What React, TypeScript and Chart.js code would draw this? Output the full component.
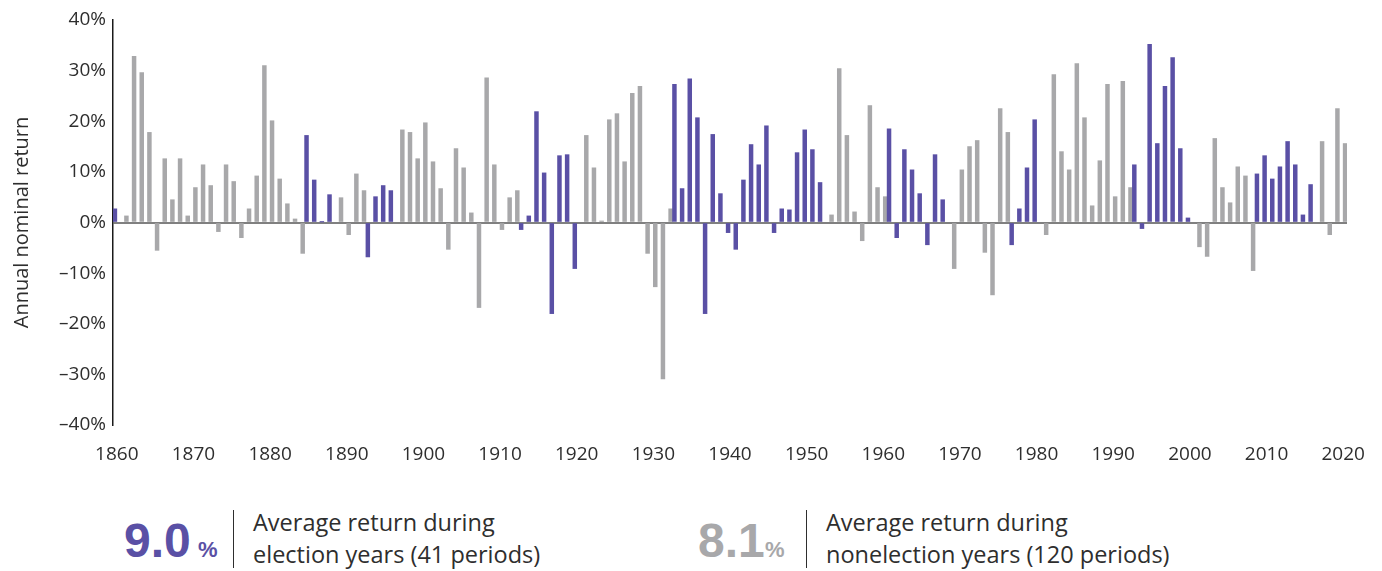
import React, { useEffect, useRef } from "react";
import { Chart, registerables } from "chart.js";

Chart.register(...registerables);

// ---------- data ----------
const startYear = 1860;

// Annual nominal return (%) for each year 1860..2020
const returns: number[] = [
  // 1860-1869
  2.7, 1.3, 32.8, 29.6, 17.8, -5.5, 12.6, 4.5, 12.6, 1.3,
  // 1870-1879
  6.9, 11.4, 7.3, -1.8, 11.4, 8.1, -3.0, 2.7, 9.2, 31.0,
  // 1880-1889
  20.1, 8.6, 3.7, 0.7, -6.1, 17.2, 8.4, 0.1, 5.5, 4.9,
  // 1890-1899
  -2.4, 9.6, 6.3, -6.8, 5.1, 7.3, 6.3, 18.3, 17.8, 12.6,
  // 1900-1909
  19.7, 12.0, 6.7, -5.3, 14.6, 10.8, 1.9, -16.8, 28.6, 11.4,
  // 1910-1919
  -1.4, 4.9, 6.3, -1.4, 1.3, 21.9, 9.8, -18.0, 13.2, 13.4,
  // 1920-1929
  -9.1, 17.2, 10.8, 0.3, 20.3, 21.5, 12.0, 25.5, 26.9, -6.1,
  // 1930-1939
  -12.7, -30.9, 2.7, 27.3, 6.7, 28.4, 20.7, -18.0, 17.4, 5.7,
  // 1940-1949
  -2.0, -5.3, 8.4, 15.4, 11.4, 19.1, -2.0, 2.7, 2.5, 13.8,
  // 1950-1959
  18.3, 14.4, 7.9, 1.5, 30.4, 17.2, 2.1, -3.6, 23.1, 6.9,
  // 1960-1969
  5.1, 18.5, -3.0, 14.4, 10.4, 5.7, -4.4, 13.4, 4.5, -9.1,
  // 1970-1979
  10.4, 15.0, 16.2, -5.9, -14.3, 22.5, 17.8, -4.4, 2.7, 10.8,
  // 1980-1989
  20.3, -2.4, 29.2, 14.0, 10.4, 31.4, 20.7, 3.3, 12.2, 27.3,
  // 1990-1999
  5.1, 27.9, 6.9, 11.4, -1.2, 35.2, 15.6, 26.9, 32.6, 14.6,
  // 2000-2009
  0.9, -4.8, -6.7, 16.6, 6.9, 3.9, 11.0, 9.2, -9.5, 9.6,
  // 2010-2019
  13.2, 8.6, 11.0, 16.0, 11.4, 1.5, 7.5, 16.0, -2.4, 22.5,
  // 2020
  15.6,
];

// Years drawn in purple
const electionYears: number[] = [
  1860,
  1885, 1886, 1887, 1888,
  1893, 1894, 1895, 1896,
  1913, 1914, 1915, 1916, 1917, 1918, 1919, 1920,
  1933, 1934, 1935, 1936, 1937, 1938, 1939, 1940, 1941, 1942,
  1943, 1944, 1945, 1946, 1947, 1948, 1949, 1950, 1951, 1952,
  1961, 1962, 1963, 1964, 1965, 1966, 1967, 1968,
  1977, 1978, 1979, 1980,
  1993, 1994, 1995, 1996, 1997, 1998, 1999, 2000,
  2009, 2010, 2011, 2012, 2013, 2014, 2015, 2016,
];

const yTicks: number[] = [-40, -30, -20, -10, 0, 10, 20, 30, 40];
const xLabelEvery = 10;

const electionAvg = "9.0";
const nonElectionAvg = "8.1";
const electionText = ["Average return during", "election years (41 periods)"];
const nonElectionText = ["Average return during", "nonelection years (120 periods)"];

// ---------- styles ----------
const PURPLE = "#5A50A5";
const GREY = "#A8A8AA";
const TEXT = "#2e2e2e";
const FONT = "'Open Sans', 'Liberation Sans', sans-serif";

function ChartCanvas() {
  const ref = useRef<HTMLCanvasElement | null>(null);

  useEffect(() => {
    if (!ref.current) return;
    const years = returns.map((_, i) => String(startYear + i));
    const purpleData = returns.map((v, i) =>
      electionYears.includes(startYear + i) ? v : null
    );
    const greyData = returns.map((v, i) =>
      electionYears.includes(startYear + i) ? null : v
    );

    const chart = new Chart(ref.current, {
      type: "bar",
      data: {
        labels: years,
        datasets: [
          {
            label: "Election years",
            data: purpleData,
            backgroundColor: PURPLE,
            categoryPercentage: 1,
            barPercentage: 1,
          },
          {
            label: "Nonelection years",
            data: greyData,
            backgroundColor: GREY,
            categoryPercentage: 1,
            barPercentage: 1,
          },
        ],
      },
      options: {
        responsive: false,
        animation: false,
        devicePixelRatio: 1,
        layout: { padding: { top: 20, right: 35, bottom: 0, left: 0 } },
        plugins: {
          legend: { display: false },
          tooltip: { enabled: false },
        },
        scales: {
          x: {
            grid: { display: false },
            border: { display: false },
            ticks: {
              autoSkip: false,
              maxRotation: 0,
              minRotation: 0,
              padding: 10,
              color: TEXT,
              font: { family: FONT, size: 19, weight: 400 },
              callback: (_v: any, idx: number) =>
                (startYear + idx) % xLabelEvery === 0 ? String(startYear + idx) : "",
            },
            afterFit: (scale: any) => {
              scale.height = 55;
            },
          },
          y: {
            min: yTicks[0],
            max: yTicks[yTicks.length - 1],
            afterBuildTicks: (scale: any) => {
              scale.ticks = yTicks.map((v) => ({ value: v }));
            },
            grid: {
              drawTicks: false,
              lineWidth: 2,
              color: (ctx: any) =>
                ctx.tick && ctx.tick.value === 0 ? "#808080" : "rgba(0,0,0,0)",
            },
            border: { display: true, color: "#1a1a1a", width: 1.5 },
            ticks: {
              padding: 7,
              color: TEXT,
              font: { family: FONT, size: 19, weight: 400 },
              callback: (v: any) =>
                Number(v) < 0 ? "\u2013" + Math.abs(Number(v)) + "%" : v + "%",
            },
            title: {
              display: true,
              text: "Annual nominal return",
              color: TEXT,
              font: { family: FONT, size: 20, weight: 400 },
              padding: { top: 10, bottom: 0 },
            },
            afterFit: (scale: any) => {
              scale.width = 113;
            },
          },
        },
      },
    });
    return () => chart.destroy();
  }, []);

  return (
    <canvas
      ref={ref}
      width={1382}
      height={480}
      style={{ position: "absolute", left: 0, top: 0, width: 1382, height: 480 }}
    />
  );
}

function Stat(props: {
  left: number;
  value: string;
  color: string;
  pctLeft: number;
  divider: number;
  textLeft: number;
  lines: string[];
}) {
  const { left, value, color, pctLeft, divider, textLeft, lines } = props;
  return (
    <>
      <div
        style={{
          position: "absolute",
          left,
          top: 517,
          fontFamily: "'Liberation Sans', Arial, sans-serif",
          fontWeight: 700,
          fontSize: 48,
          lineHeight: "48px",
          letterSpacing: 0,
          color,
          whiteSpace: "nowrap",
        }}
      >
        {value}
      </div>
      <div
        style={{
          position: "absolute",
          left: pctLeft,
          top: 539,
          fontFamily: "'Liberation Sans', Arial, sans-serif",
          fontWeight: 700,
          fontSize: 22,
          lineHeight: "22px",
          color,
        }}
      >
        %
      </div>
      <div
        style={{
          position: "absolute",
          left: divider,
          top: 510,
          width: 1,
          height: 58,
          background: TEXT,
        }}
      />
      {lines.map((t, i) => (
        <div
          key={i}
          style={{
            position: "absolute",
            left: textLeft,
            top: 506 + i * 32,
            fontFamily: FONT,
            fontWeight: 400,
            fontSize: 23.5,
            lineHeight: "32px",
            color: TEXT,
            whiteSpace: "nowrap",
          }}
        >
          {t}
        </div>
      ))}
    </>
  );
}

export default function App() {
  return (
    <div
      style={{
        position: "absolute",
        left: 0,
        top: 0,
        width: 1382,
        height: 571,
        background: "#ffffff",
        overflow: "hidden",
      }}
    >
      <ChartCanvas />
      <Stat
        left={124}
        value={electionAvg}
        color={PURPLE}
        pctLeft={198}
        divider={233}
        textLeft={253}
        lines={electionText}
      />
      <Stat
        left={698}
        value={nonElectionAvg}
        color={GREY}
        pctLeft={765}
        divider={806}
        textLeft={826}
        lines={nonElectionText}
      />
    </div>
  );
}
